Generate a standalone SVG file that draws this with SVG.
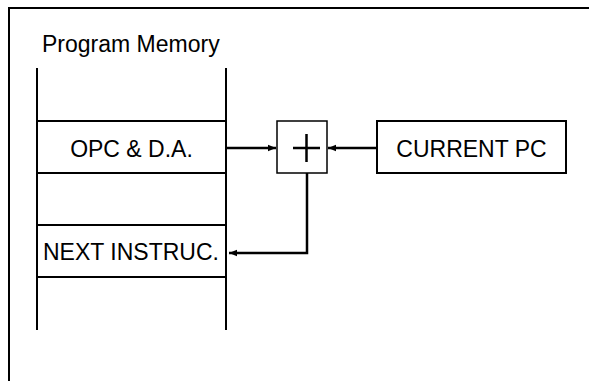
<svg xmlns="http://www.w3.org/2000/svg" width="589" height="381" viewBox="0 0 589 381">
<style>
.t{font-family:"Liberation Sans",Arial,sans-serif;font-size:23px;fill:#000}
.ln{stroke:#000;stroke-width:2;fill:none}
.box{stroke:#000;stroke-width:2;fill:#fff}
.con{stroke:#000;stroke-width:2.5;fill:none}
</style>
<defs>
<marker id="ah" markerUnits="userSpaceOnUse" markerWidth="9" markerHeight="8" refX="8" refY="4" orient="auto">
<path d="M0,0.8 L8,4 L0,7.2 Z" fill="#000"/>
</marker>
</defs>
<rect width="589" height="381" fill="#fff"/>
<g id="frame">
<path class="ln" d="M9,381 V8 H589" stroke="#222"/>
</g>
<g id="program-memory">
<text class="t" x="42" y="52">Program Memory</text>
<path class="ln" d="M37,68 V330 M226,68 V330 M37,121 H226 M37,173 H226 M37,225 H226 M37,277 H226"/>
</g>
<g id="opc">
<text class="t" x="131.5" y="156.5" text-anchor="middle">OPC &amp; D.A.</text>
</g>
<g id="next">
<text class="t" x="43" y="259.5">NEXT INSTRUC.</text>
</g>
<g id="adder">
<rect x="277" y="121" width="50" height="52" fill="#fff" stroke="#000" stroke-width="1.5"/>
<path d="M293,148 H320 M306.5,134 V162" stroke="#000" stroke-width="2.5"/>
</g>
<g id="current-pc">
<rect class="box" x="377" y="121" width="189" height="52"/>
<text class="t" x="471.5" y="156.5" text-anchor="middle">CURRENT PC</text>
</g>
<g id="connectors">
<path class="con" d="M227,148 H276" marker-end="url(#ah)"/>
<path class="con" d="M376,148 H328" marker-end="url(#ah)"/>
<path class="con" d="M307,173 V253 H229" marker-end="url(#ah)"/>
</g>
</svg>
